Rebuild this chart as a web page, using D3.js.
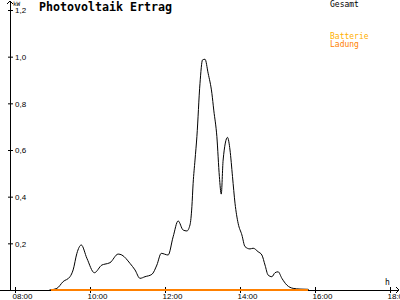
<!DOCTYPE html>
<html>
<head>
<meta charset="utf-8">
<script src="https://cdn.jsdelivr.net/npm/d3@7"></script>
<style>
  body { margin: 0; background: #fff; }
  svg { display: block; font-family: "DejaVu Sans Mono", monospace; }
</style>
</head>
<body>
<svg id="vis" width="400" height="300"></svg>
<script>
// Gesamt (total) output in kW
const gesamtTimes = ["08:55","09:07","09:17","09:28","09:33","09:39","09:46","09:55","10:07","10:19",
  "10:24","10:32","10:45","10:51","11:04","11:12","11:20","11:28","11:39","11:47",
  "11:54","12:05","12:13","12:21","12:29","12:35","12:40","12:43","12:45","12:48",
  "12:51","12:56","13:00","13:04","13:09","13:15","13:18","13:23","13:27","13:30",
  "13:33","13:40","13:44","13:48","13:52","13:57","14:03","14:08","14:16","14:21",
  "14:29","14:35","14:40","14:45","14:51","14:56","15:01","15:07","15:15","15:25",
  "15:36","15:49","15:50"]
const gesamtValues = [0,0.007,0.036,0.057,0.086,0.157,0.193,0.136,0.074,0.107,
  0.111,0.117,0.154,0.150,0.114,0.086,0.050,0.057,0.067,0.107,
  0.157,0.150,0.228,0.296,0.257,0.253,0.279,0.357,0.457,0.557,
  0.657,0.886,0.986,0.989,0.929,0.843,0.771,0.657,0.486,0.411,
  0.557,0.654,0.600,0.486,0.372,0.286,0.236,0.186,0.176,0.179,
  0.164,0.150,0.107,0.064,0.057,0.074,0.078,0.050,0.021,0.007,
  0.004,0.003,0]

// Batterie Ladung (battery charging), flat zero
const ladungTimes = ["08:57","15:49"]
const ladungValues = [0,0]

const yTicks = [0.2,0.4,0.6,0.8,1.0,1.2]
const xTicks = ["08:00","10:00","12:00","14:00","16:00","18:00"]

const vis = d3.select("#vis")
const parse = d3.timeParse("%H:%M")

const x = d3.scaleTime().domain([parse("08:00"), parse("18:00")]).range([15, 390])
const y = d3.scaleLinear().domain([0, 1.2]).range([290, 10])

// y axis
const yAxis = vis.append("g")
  .attr("transform", "translate(10,0)")
  .call(d3.axisRight(y).tickValues(yTicks).tickSize(3).tickPadding(2)
    .tickFormat(d => d3.format(".1f")(d).replace(".", ",")))
yAxis.select(".domain").remove()
yAxis.selectAll(".tick line").attr("x1", -2).attr("stroke", "#000")
yAxis.selectAll(".tick text").attr("font-size", 8).attr("fill", "#000").attr("dy", "0.35em")

// x axis
const xAxis = vis.append("g")
  .attr("transform", "translate(0,290)")
  .call(d3.axisBottom(x).tickValues(xTicks.map(parse)).tickSize(3).tickPadding(1)
    .tickFormat(d3.timeFormat("%H:%M")))
xAxis.select(".domain").remove()
xAxis.selectAll(".tick line").attr("y1", -3).attr("stroke", "#000")
xAxis.selectAll(".tick text").attr("font-size", 8).attr("fill", "#000")
  .attr("text-anchor", "start").attr("dx", -3).attr("y", 9).attr("dy", null)

// axis lines with arrows
vis.append("path").attr("d", "M10,290V1M7,4L10,1L13,4").attr("fill", "none").attr("stroke", "#000").attr("shape-rendering", "crispEdges")
vis.append("path").attr("d", "M0,290H399M396,287L399,290L396,293").attr("fill", "none").attr("stroke", "#000").attr("shape-rendering", "crispEdges")

vis.append("text").attr("x", 13).attr("y", 6).attr("font-size", 6).text("kW")
vis.append("text").attr("x", 385).attr("y", 285).attr("font-size", 8).text("h")

// title
vis.append("text").attr("x", 39).attr("y", 11).attr("font-size", 11.5).attr("font-weight", "bold")
  .attr("textLength", 133).attr("lengthAdjust", "spacingAndGlyphs").text("Photovoltaik Ertrag")

// legend
vis.append("text").attr("x", 330).attr("y", 7).attr("font-size", 8).attr("fill", "#000").text("Gesamt")
vis.append("text").attr("x", 330).attr("y", 39).attr("font-size", 8).attr("fill", "#ffb000").text("Batterie")
vis.append("text").attr("x", 330).attr("y", 46.5).attr("font-size", 8).attr("fill", "#ff8000").text("Ladung")

const line = d3.line().x(d => x(parse(d[0]))).y(d => y(d[1])).curve(d3.curveMonotoneX)

vis.append("path")
  .datum(d3.zip(gesamtTimes, gesamtValues))
  .attr("d", line)
  .attr("fill", "none").attr("stroke", "#000").attr("stroke-width", 1)

vis.append("path")
  .datum(d3.zip(ladungTimes, ladungValues))
  .attr("d", line)
  .attr("fill", "none").attr("stroke", "#ff8000").attr("stroke-width", 1.5)
  .attr("shape-rendering", "crispEdges")
</script>
</body>
</html>
